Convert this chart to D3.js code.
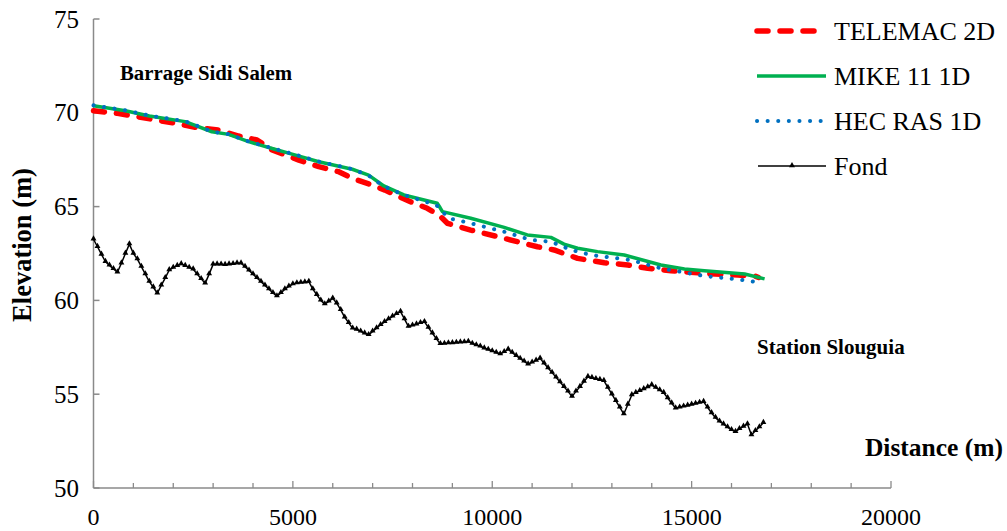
<!DOCTYPE html>
<html><head><meta charset="utf-8">
<script src="https://cdn.jsdelivr.net/npm/d3@7"></script>
<style>body{margin:0;background:#fff}svg{display:block}text{font-family:"Liberation Serif","Times New Roman",serif}</style>
</head><body><svg id="c" width="1007" height="531"></svg>
<script>
// ---- data ----
const telemacDist = [0,600,1100,2050,2550,3135,3640,4100,4480,5150,5650,6150,6490,6990,7310,7950,8370,8665,8875,9460,10130,10630,11135,11550,12140,12810,13400,13900,14485,15320,16160,16580,16680];
const telemacElev = [70.11,69.97,69.79,69.44,69.23,69.08,68.76,68.55,68.02,67.48,67.13,66.86,66.51,66.15,65.88,65.26,64.91,64.55,64.11,63.75,63.40,63.13,62.86,62.69,62.24,62.01,61.89,61.71,61.58,61.44,61.35,61.30,61.22];
const mikeDist = [0,800,1400,2300,2970,3390,3890,4480,4980,5650,6490,6900,7280,7785,8620,8690,8750,9460,10300,10880,11470,11800,12140,12640,13310,14230,14820,15320,16330,16830];
const mikeElev = [70.38,70.11,69.83,69.53,68.99,68.85,68.46,68.10,67.80,67.39,66.99,66.68,66.10,65.62,65.18,64.95,64.73,64.38,63.89,63.49,63.36,63.00,62.78,62.60,62.42,61.89,61.67,61.58,61.41,61.15];
const hecDist = [0,800,1400,2300,2970,3390,3890,4480,4980,5650,6490,6900,7280,7785,8600,8750,8910,9460,10300,10970,11470,11980,12480,13480,14230,15320,16160,16620];
const hecElev = [70.40,70.13,69.85,69.55,69.00,68.86,68.47,68.12,67.82,67.40,67.00,66.65,66.08,65.62,65.08,64.73,64.38,64.11,63.66,63.22,63.13,62.69,62.42,62.15,61.71,61.30,61.12,60.98];
// bed profile (Fond), one value every 100 m from 0 to 16800 m
const fondStart = 0, fondStep = 100;
const fondElev = [63.26,62.86,62.45,62.06,61.87,61.68,61.50,61.98,62.50,63.00,
62.50,62.20,61.80,61.40,61.00,60.70,60.38,60.80,61.20,61.62,
61.75,61.85,61.94,61.85,61.75,61.66,61.40,61.15,60.91,61.40,
61.92,61.93,61.92,61.90,61.93,61.95,61.98,61.98,61.80,61.60,
61.40,61.20,61.00,60.80,60.60,60.40,60.23,60.40,60.60,60.75,
60.87,60.92,60.95,60.97,61.00,60.60,60.30,60.00,59.80,59.95,
60.11,59.85,59.50,59.10,58.80,58.51,58.45,58.35,58.25,58.16,
58.35,58.52,58.70,58.86,59.00,59.15,59.28,59.40,59.00,58.60,
58.67,58.73,58.80,58.86,58.55,58.25,57.95,57.68,57.70,57.72,
57.73,57.75,57.77,57.78,57.80,57.70,57.62,57.55,57.45,57.38,
57.30,57.22,57.14,57.26,57.39,57.22,57.05,56.90,56.75,56.60,
56.70,56.80,56.91,56.65,56.40,56.15,55.90,55.65,55.40,55.15,
54.87,55.15,55.40,55.68,55.93,55.88,55.82,55.77,55.72,55.35,
55.00,54.65,54.30,53.94,54.45,54.96,55.08,55.18,55.28,55.38,
55.49,55.35,55.22,55.08,54.80,54.52,54.25,54.30,54.35,54.40,
54.45,54.50,54.55,54.60,54.30,54.00,53.75,53.55,53.40,53.25,
53.10,53.00,53.15,53.28,53.41,52.82,53.05,53.25,53.48];
const seriesNames = ["TELEMAC 2D","MIKE 11 1D","HEC RAS 1D","Fond"];
const xTicks = [0,5000,10000,15000,20000];
const yTicks = [50,55,60,65,70,75];
const xLabel = "Distance (m)", yLabel = "Elevation (m)";
const note1 = "Barrage Sidi Salem", note2 = "Station Slouguia";

// ---- drawing ----
const svg = d3.select("#c");
const x = d3.scaleLinear().domain([0,20000]).range([93.5,891]);
const y = d3.scaleLinear().domain([50,75]).range([488,19]);
const axisColor = "#8a8a8a";

// y axis
svg.append("line").attr("x1",x(0)).attr("x2",x(0)).attr("y1",y(75)).attr("y2",y(50)).attr("stroke",axisColor).attr("stroke-width",1.5);
yTicks.forEach(t=>{
  svg.append("line").attr("x1",x(0)).attr("x2",x(0)+6).attr("y1",y(t)).attr("y2",y(t)).attr("stroke",axisColor).attr("stroke-width",1.5);
  svg.append("text").attr("x",79).attr("y",y(t)+8.5).attr("text-anchor","end").attr("font-size",25).text(t);
});
// x axis
svg.append("line").attr("x1",x(0)).attr("x2",x(20000)).attr("y1",y(50)).attr("y2",y(50)).attr("stroke",axisColor).attr("stroke-width",1.5);
d3.range(0,20001,1000).forEach(t=>{
  const major = t%5000===0;
  svg.append("line").attr("x1",x(t)).attr("x2",x(t)).attr("y1",y(50)).attr("y2",y(50)-(major?7:5)).attr("stroke",axisColor).attr("stroke-width",1.3);
});
xTicks.forEach(t=>{
  svg.append("text").attr("x",x(t)).attr("y",525).attr("text-anchor","middle").attr("font-size",24).text(t);
});
svg.append("text").attr("x",1003).attr("y",456).attr("text-anchor","end").attr("font-size",25.5).attr("font-weight","bold").text(xLabel);
svg.append("text").attr("transform","translate(31,245) rotate(-90)").attr("text-anchor","middle").attr("font-size",26.5).attr("font-weight","bold").text(yLabel);

svg.append("text").attr("x",120).attr("y",80).attr("font-size",20.8).attr("font-weight","bold").text(note1);
svg.append("text").attr("x",757).attr("y",354).attr("font-size",21).attr("font-weight","bold").text(note2);

const line = d3.line().x(d=>x(d[0])).y(d=>y(d[1]));
const tele = telemacDist.map((d,i)=>[d,telemacElev[i]]);
const mike = mikeDist.map((d,i)=>[d,mikeElev[i]]);
const hec = hecDist.map((d,i)=>[d,hecElev[i]]);
const fond = fondElev.map((v,i)=>[fondStart+i*fondStep,v]);

const styles = [
  {c:"#FF0000",w:5.5,dash:"11 12",cap:"round"},
  {c:"#00B050",w:3.5,dash:null,cap:"butt"},
  {c:"#0070C0",w:4,dash:"0.1 10.5",cap:"round"},
  {c:"#000000",w:1.5,dash:null,cap:"butt"}
];
[tele,mike,hec,fond].forEach((data,i)=>{
  const s = styles[i];
  const p = svg.append("path").datum(data).attr("d",line).attr("fill","none").attr("stroke",s.c).attr("stroke-width",s.w).attr("stroke-linecap",s.cap).attr("stroke-linejoin","round");
  if(s.dash) p.attr("stroke-dasharray",s.dash);
});
const tri = d3.symbol().type(d3.symbolTriangle).size(15);
svg.append("g").selectAll("path").data(fond).join("path").attr("d",tri).attr("transform",d=>`translate(${x(d[0])},${y(d[1])-0.5})`).attr("fill","#000");

// legend
const legY = [31,76,121,166];
seriesNames.forEach((n,i)=>{
  const s = styles[i];
  const x1 = i===3?758:757, x2 = i===0?820:(i===2?824:826);
  const l = svg.append("line").attr("x1",x1).attr("x2",x2).attr("y1",legY[i]).attr("y2",legY[i]).attr("stroke",s.c).attr("stroke-width",s.w).attr("stroke-linecap",s.cap);
  if(s.dash) l.attr("stroke-dasharray",s.dash);
  if(i===3) svg.append("path").attr("d",tri).attr("transform",`translate(792,${legY[i]-0.5})`).attr("fill","#000");
  svg.append("text").attr("x",834).attr("y",legY[i]+8.5).attr("font-size",26).text(n);
});
</script></body></html>
